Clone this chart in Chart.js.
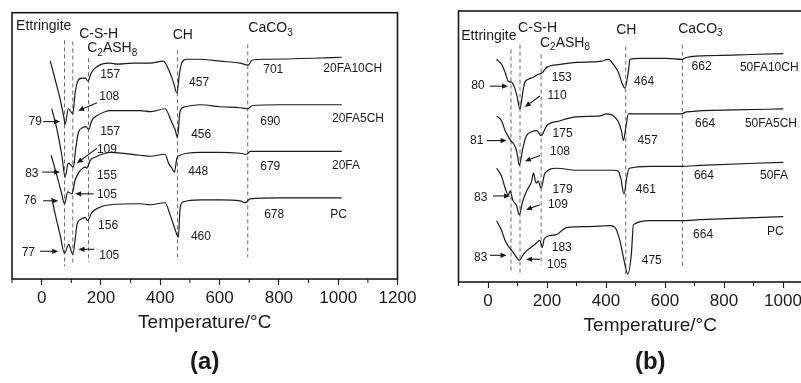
<!DOCTYPE html>
<html>
<head>
<meta charset="utf-8">
<script src="https://cdn.jsdelivr.net/npm/chart.js@4.4.1/dist/chart.umd.min.js"></script>
<style>
  html, body { margin: 0; padding: 0; background: #fff; width: 801px; height: 383px; overflow: hidden; }
  .panel { position: absolute; top: 0; }
  #panelA { left: 0; }
  #panelB { left: 446px; }
</style>
</head>
<body>
<div class="panel" id="panelA"><canvas id="chartA" width="420" height="383"></canvas></div>
<div class="panel" id="panelB"><canvas id="chartB" width="420" height="383"></canvas></div>
<script>
// x axis
const tempTickLabels = [0, 200, 400, 600, 800, 1000, 1200];
const tempMinorTicks = [-100, 100, 300, 500, 700, 900, 1100];

// (a) 20% fly ash pastes, DTG in arbitrary units (curves stacked)
const seriesA = ['20FA10CH', '20FA5CH', '20FA', 'PC'];
const a20fa10chTemp = [29, 45, 62, 74, 79, 90, 105, 113, 122, 136, 147, 156, 167, 180, 203, 231, 254, 310, 366, 410, 433, 445, 456, 465, 473, 490, 535, 602, 669, 697, 709, 760, 916, 1012];
const a20fa10chDtg  = [220, 202, 182, 165, 156, 172, 167, 188, 200, 203, 203, 200, 208, 213, 217, 218, 217, 218, 218, 220, 208, 198, 188, 208, 219, 222, 222, 220, 218, 216, 221, 222, 223, 224];
const a20fa5chTemp = [34, 51, 68, 79, 90, 107, 115, 124, 139, 149, 158, 169, 186, 214, 231, 332, 366, 416, 439, 450, 458, 467, 484, 535, 602, 669, 695, 709, 803, 1012];
const a20fa5chDtg  = [172, 152, 125, 103, 117, 113, 132, 148, 153, 154, 151, 160, 165, 169, 170, 170, 169, 172, 158, 151, 143, 170, 174, 176, 174, 173, 172, 175, 176, 176];
const a20faTemp = [32, 51, 66, 77, 88, 102, 113, 126, 139, 147, 152, 164, 180, 214, 231, 332, 366, 416, 428, 439, 448, 456, 467, 490, 535, 602, 669, 692, 703, 803, 1012];
const a20faDtg  = [125, 105, 88, 76, 88, 86, 100, 108, 112, 113, 112, 120, 123, 127, 128, 125, 124, 126, 117, 112, 108, 122, 125, 127, 128, 128, 127, 126, 129, 129, 129];
const aPcTemp = [34, 46, 62, 77, 91, 105, 113, 119, 130, 147, 155, 169, 192, 231, 332, 366, 416, 433, 450, 461, 467, 478, 535, 602, 669, 686, 703, 803, 1012];
const aPcDtg  = [82, 65, 45, 26, 35, 25, 40, 55, 60, 62, 59, 67, 72, 75, 76, 75, 77, 65, 50, 42, 72, 78, 80, 80, 79, 77, 81, 82, 82];

// (b) 50% fly ash pastes
const seriesB = ['50FA10CH', '50FA5CH', '50FA', 'PC'];
const b50fa10chTemp = [29, 46, 58, 69, 80, 92, 99, 108, 118, 125, 137, 154, 171, 182, 199, 244, 300, 380, 408, 425, 442, 453, 464, 476, 481, 515, 606, 656, 673, 775, 888, 1001];
const b50fa10chDtg  = [225, 220, 212, 203, 202, 195, 187, 175, 192, 202, 205, 207, 210, 211, 217, 220, 222, 223, 225, 220, 212, 202, 196, 213, 225, 226, 226, 225, 227, 229, 230, 231];
const b50fa5chTemp = [29, 46, 58, 69, 77, 92, 100, 106, 118, 129, 148, 165, 180, 199, 244, 300, 380, 402, 425, 442, 453, 459, 468, 476, 549, 656, 673, 831, 1001];
const b50fa5chDtg  = [168, 163, 153, 147, 143, 137, 128, 118, 135, 147, 152, 153, 148, 158, 163, 167, 168, 170, 168, 162, 152, 143, 158, 170, 170, 170, 172, 174, 175];
const b50faTemp = [29, 46, 58, 69, 75, 84, 97, 106, 118, 131, 148, 154, 163, 170, 180, 193, 233, 300, 380, 425, 442, 450, 461, 470, 479, 549, 656, 719, 1001];
const b50faDtg  = [115, 107, 95, 88, 92, 83, 77, 68, 82, 92, 102, 110, 100, 102, 95, 110, 115, 113, 113, 113, 112, 105, 89, 105, 115, 117, 117, 118, 121];
const bPcTemp = [29, 46, 58, 72, 80, 92, 106, 120, 137, 159, 176, 184, 190, 210, 233, 266, 346, 414, 431, 447, 459, 474, 486, 493, 549, 656, 719, 1001];
const bPcDtg  = [62, 52, 42, 35, 32, 27, 22, 28, 33, 38, 42, 35, 43, 47, 48, 55, 56, 57, 55, 42, 25, 8, 28, 58, 62, 62, 63, 66];

// peak temperatures written on the curves: ettringite, C-S-H, C2ASH8, CH, CaCO3
const peaksA = [[79, 108, 157, 457, 701], [83, 109, 157, 456, 690], [76, 105, 155, 448, 679], [77, 105, 156, 460, 678]];
const peaksB = [[80, 110, 153, 464, 662], [81, 108, 175, 457, 664], [83, 109, 179, 461, 664], [83, 105, 183, 475, 664]];
const phaseNames = ['Ettringite', 'C-S-H', 'C_2ASH_8', 'CH', 'CaCO_3'];
const guideTempsA = [77, 105, 158, 458, 695];
const guideTempsB = [78, 108.5, 180, 467, 659];

const INK = '#1a1a1a';
const FONT = '"Liberation Sans", Arial, Helvetica, sans-serif';
Chart.defaults.font.family = FONT;
Chart.defaults.color = INK;

function pts(t, v) { return t.map((x, i) => ({ x, y: v[i] })); }

// placement of the notes (data units of each panel)
const layoutA = {
  yMax: 269,
  peakPos: [
    [[-22, 159], [228, 184], [231, 206], [531, 198], [781, 211]],
    [[-33, 106], [220, 131], [231, 149], [538, 146], [771, 159]],
    [[-39, 79], [220, 85], [220, 104], [528, 108], [771, 113]],
    [[-45, 27], [228, 24], [224, 54], [537, 43], [784, 65]]
  ],
  ettArrows: [[[5, 159], [62, 159]], [[2, 108], [62, 108]], [[5, 79], [56, 79]], [[-5, 28], [56, 28]]],
  cshArrows: [[[187, 178], [123, 170]], [[186, 132], [119, 117]], [[175, 86], [113, 86]], [[178, 30], [124, 30]]],
  namePos: [[950, 212], [979, 162], [979, 114], [973, 65]],
  headPos: [[7, 255], [192, 247], [238, 233], [476, 246], [772, 253]],
  guideSpan: [[241, 13], [240, 14], [223, 17], [231, 22], [237, 22]]
};
const layoutB = {
  yMax: 274,
  peakPos: [
    [[-34, 198], [234, 188], [250, 207], [529, 203], [724, 218]],
    [[-38, 143], [244, 132], [253, 150], [541, 143], [736, 160]],
    [[-25, 85], [237, 78], [253, 93], [535, 93], [732, 107]],
    [[-25, 25], [234, 17], [250, 35], [555, 22], [729, 48]]
  ],
  ettArrows: [[[7, 198], [68, 198]], [[-4, 143], [63, 143]], [[17, 87], [75, 87]], [[7, 27], [63, 27]]],
  cshArrows: [[[176, 188], [125, 177]], [[176, 128], [125, 122]], [[176, 78], [129, 73]], [[176, 23], [129, 23]]],
  namePos: [[854, 217], [871, 160], [922, 107], [946, 51]],
  headPos: [[3, 249], [168, 257], [261, 242], [469, 255], [720, 256]],
  guideSpan: [[235, 10], [240, 8], [230, 17], [238, 8], [240, 15]]
};

// text with single-character subscripts written as _x
function richText(ctx, str, cx, cy, size, align) {
  const parts = [];
  for (let i = 0; i < str.length; i++) {
    if (str[i] === '_') { parts.push({ t: str[i + 1], sub: true }); i++; }
    else if (parts.length && !parts[parts.length - 1].sub) parts[parts.length - 1].t += str[i];
    else parts.push({ t: str[i], sub: false });
  }
  const subSize = Math.round(size * 0.7);
  let w = 0;
  parts.forEach(p => { ctx.font = (p.sub ? subSize : size) + 'px ' + FONT; p.w = ctx.measureText(p.t).width; w += p.w; });
  let x = align === 'left' ? cx : cx - w / 2;
  ctx.textAlign = 'left';
  ctx.textBaseline = 'middle';
  parts.forEach(p => {
    ctx.font = (p.sub ? subSize : size) + 'px ' + FONT;
    ctx.fillText(p.t, x, p.sub ? cy + size * 0.32 : cy);
    x += p.w;
  });
}

function arrow(ctx, x1, y1, x2, y2) {
  const a = Math.atan2(y2 - y1, x2 - x1), L = 6, W = 2.6;
  ctx.beginPath(); ctx.moveTo(x1, y1); ctx.lineTo(x2 - L * 0.6 * Math.cos(a), y2 - L * 0.6 * Math.sin(a)); ctx.stroke();
  ctx.beginPath();
  ctx.moveTo(x2, y2);
  ctx.lineTo(x2 - L * Math.cos(a) + W * Math.sin(a), y2 - L * Math.sin(a) - W * Math.cos(a));
  ctx.lineTo(x2 - L * Math.cos(a) - W * Math.sin(a), y2 - L * Math.sin(a) + W * Math.cos(a));
  ctx.closePath(); ctx.fill();
}

const notesPlugin = {
  id: 'notes',
  beforeDatasetsDraw(chart, args, o) {
    const { ctx, scales: { x, y } } = chart;
    ctx.save();
    ctx.strokeStyle = '#6a6a6a'; ctx.lineWidth = 1; ctx.setLineDash([4, 3]);
    o.guides.forEach((t, i) => {
      const px = x.getPixelForValue(t);
      ctx.beginPath();
      ctx.moveTo(px, y.getPixelForValue(o.layout.guideSpan[i][0]));
      ctx.lineTo(px, y.getPixelForValue(o.layout.guideSpan[i][1]));
      ctx.stroke();
    });
    ctx.restore();
  },
  afterDatasetsDraw(chart, args, o) {
    const { ctx, chartArea: ca, scales: { x, y } } = chart;
    const L = o.layout;
    const X = v => x.getPixelForValue(v), Y = v => y.getPixelForValue(v);
    ctx.save();
    ctx.strokeStyle = INK; ctx.fillStyle = INK;
    ctx.lineWidth = 1.6;
    ctx.strokeRect(ca.left, ca.top, ca.right - ca.left, ca.bottom - ca.top);
    ctx.lineWidth = 1;
    tempMinorTicks.forEach(t => {
      ctx.beginPath(); ctx.moveTo(X(t), ca.bottom); ctx.lineTo(X(t), ca.bottom + 4); ctx.stroke();
    });
    ctx.lineWidth = 1.1;
    L.ettArrows.concat(L.cshArrows).forEach(([a, b]) => arrow(ctx, X(a[0]), Y(a[1]), X(b[0]), Y(b[1])));
    o.peaks.forEach((row, s) => row.forEach((val, k) => {
      const p = L.peakPos[s][k];
      richText(ctx, String(val), X(p[0]), Y(p[1]), 12, 'center');
    }));
    o.names.forEach((n, s) => richText(ctx, n, X(L.namePos[s][0]), Y(L.namePos[s][1]), 12, 'left'));
    phaseNames.forEach((n, k) => richText(ctx, n, X(L.headPos[k][0]), Y(L.headPos[k][1]), 14, 'center'));
    ctx.restore();
  }
};

function makeChart(id, curves, names, peaks, guides, layout, pad, letter) {
  return new Chart(document.getElementById(id), {
    type: 'line',
    data: {
      datasets: curves.map((c, i) => ({
        label: names[i],
        data: pts(c[0], c[1]),
        borderColor: INK,
        borderWidth: 1.2,
        pointRadius: 0,
        fill: false,
        cubicInterpolationMode: 'monotone'
      }))
    },
    options: {
      responsive: false,
      animation: false,
      layout: { padding: { left: pad.left, right: pad.right, top: pad.top, bottom: 0 } },
      plugins: {
        legend: { display: false },
        tooltip: { enabled: false },
        title: {
          display: true, position: 'bottom', text: letter, color: INK,
          font: { size: 24, weight: 'bold' },
          padding: { top: pad.letterTop, bottom: 6 }
        },
        notes: { peaks, names, guides, layout }
      },
      scales: {
        x: {
          type: 'linear', min: -100, max: 1200,
          afterBuildTicks: s => { s.ticks = tempTickLabels.map(v => ({ value: v })); },
          ticks: { autoSkip: false, maxRotation: 0, padding: 3, color: INK, font: { size: 17 }, callback: v => String(v) },
          grid: { drawOnChartArea: false, drawTicks: true, tickLength: 6, tickColor: INK, tickWidth: 1.1 },
          border: { display: false },
          title: { display: true, text: 'Temperature/°C', color: INK, font: { size: 19 }, padding: { top: pad.titleTop, bottom: 0 } }
        },
        y: { display: false, min: 0, max: layout.yMax }
      }
    },
    plugins: [notesPlugin]
  });
}

makeChart('chartA',
  [[a20fa10chTemp, a20fa10chDtg], [a20fa5chTemp, a20fa5chDtg], [a20faTemp, a20faDtg], [aPcTemp, aPcDtg]],
  seriesA, peaksA, guideTempsA, layoutA,
  { left: 12, right: 22.5, top: 12.7, titleTop: 0, letterTop: 14 }, '(a)');

makeChart('chartB',
  [[b50fa10chTemp, b50fa10chDtg], [b50fa5chTemp, b50fa5chDtg], [b50faTemp, b50faDtg], [bPcTemp, bPcDtg]],
  seriesB, peaksB, guideTempsB, layoutB,
  { left: 12.5, right: 24, top: 11, titleTop: 0, letterTop: 11 }, '(b)');
</script>
</body>
</html>
